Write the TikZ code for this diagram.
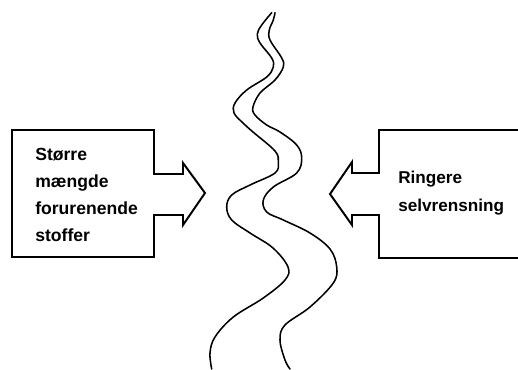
\documentclass[tikz,border=0pt]{standalone}
\usepackage{fontspec}
\setsansfont{Liberation Sans}
\usepackage{tikz}
\usetikzlibrary{positioning}

\begin{document}
\begin{tikzpicture}[x=0.025cm, y=-0.025cm]
\useasboundingbox (0,0) rectangle (518,369);

% Left box with arrow
\draw[line width=1.4pt, line join=miter] (12,130) -- (154,130) -- (154,174) -- (183,174) -- (183,163)
    -- (205,193) -- (183,225) -- (183,215) -- (154,215) -- (154,257) -- (12,257) -- cycle;

% Right box with arrow (runs off the page)
\draw[line width=1.4pt, line join=miter] (520,130) -- (379,130) -- (379,173) -- (352,173) -- (352,162)
    -- (330,194) -- (352,225) -- (352,215) -- (379,215) -- (379,258) -- (520,258);

% Texts
\node[font=\sffamily\bfseries\fontsize{12.5}{19.2}\selectfont, align=left, anchor=west, inner sep=0pt]
    (stoffer) at (35,195) {Større\\mængde\\forurenende\\stoffer};
\node[font=\sffamily\bfseries\fontsize{12.2}{19.8}\selectfont, align=left, anchor=west, inner sep=0pt]
    (selvrens) at (398,193) {Ringere\\selvrensning};

% River banks
\draw[line width=1.1pt, line cap=round] plot[smooth, tension=0.6] coordinates {
    (271.7,12.7) (261.7,25) (257.3,34) (260,43) (271.7,58) (273.3,67) (266.7,77)
    (246.7,90) (235,103) (234,113) (243,123) (253,132) (275,151) (278.3,162)
    (275,173) (250,185) (231.7,195) (226.7,207) (231.7,220) (250,233) (273,248)
    (288,267) (285,280) (263.3,298) (233.3,317) (215,337) (210,353) (211.7,369)};
\draw[line width=1.1pt, line cap=round] plot[smooth, tension=0.6] coordinates {
    (275,12.7) (273.3,20) (269.3,30) (270,40) (281.7,58) (283.3,67) (275,80)
    (260,93) (253,107) (255,115) (266.7,125) (280,132) (296.7,145) (301.7,158)
    (296.7,173) (273.3,187) (263.3,200) (266.7,212) (283.3,220) (310,233) (330,249)
    (336.7,267) (333.3,283) (310,307) (285,325) (280,340) (285,360) (290,369)};
\end{tikzpicture}
\end{document}
